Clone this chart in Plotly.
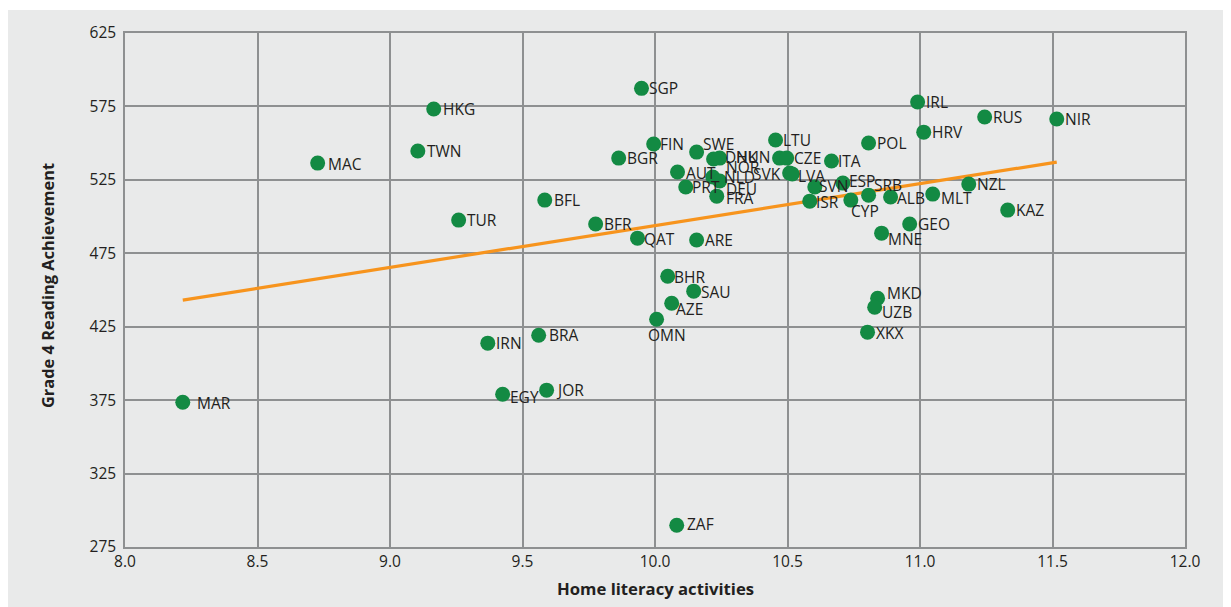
import plotly.graph_objects as go

# ---- data ----
countries = ["MAR", "MAC", "HKG", "TWN", "TUR", "IRN", "BRA", "EGY", "JOR", "BFL",
             "BFR", "BGR", "SGP", "FIN", "QAT", "SWE", "DNK", "NOR", "AUT", "PRT",
             "NLD", "DEU", "FRA", "ZAF", "BHR", "SAU", "AZE", "OMN", "ARE", "LTU",
             "HUN", "CZE", "SVK", "LVA", "ITA", "POL", "IRL", "HRV", "RUS", "NIR",
             "NZL", "KAZ", "MLT", "ALB", "SRB", "CYP", "ESP", "SVN", "ISR", "GEO",
             "MNE", "MKD", "UZB", "XKX"]
home_literacy = [8.218, 8.727, 9.165, 9.105, 9.259, 9.369, 9.561, 9.425, 9.591, 9.584,
                 9.776, 9.863, 9.949, 9.995, 9.934, 10.157, 10.244, 10.221, 10.085, 10.116,
                 10.218, 10.244, 10.233, 10.082, 10.048, 10.146, 10.063, 10.006, 10.157, 10.455,
                 10.470, 10.497, 10.508, 10.518, 10.666, 10.806, 10.991, 11.014, 11.244, 11.516,
                 11.184, 11.331, 11.048, 10.889, 10.806, 10.739, 10.709, 10.603, 10.584, 10.961,
                 10.855, 10.840, 10.829, 10.802]
reading = [373.6, 536.4, 573.2, 544.6, 497.6, 413.8, 419.2, 379.0, 381.8, 511.2,
           494.9, 539.8, 587.3, 549.4, 485.3, 543.9, 539.8, 539.2, 530.3, 520.1,
           526.9, 524.2, 513.9, 289.8, 459.4, 449.2, 441.0, 430.1, 484.0, 552.1,
           539.8, 539.8, 529.6, 529.0, 537.8, 550.1, 578.0, 557.5, 567.8, 566.4,
           522.1, 504.4, 515.3, 513.3, 514.6, 511.2, 522.8, 520.1, 510.5, 494.9,
           488.7, 444.4, 438.3, 421.3]
trend_x = [8.218, 11.516]
trend_y = [443.1, 537.1]

x_ticks = [8.0, 8.5, 9.0, 9.5, 10.0, 10.5, 11.0, 11.5, 12.0]
y_ticks = [275, 325, 375, 425, 475, 525, 575, 625]

# ---- label placement (pixel offsets: dx right, dy down, anchor) ----
default_offset = (8, 0, "left")
label_offsets = {
    "MAR": (14, 1, "left"), "MAC": (10, 1, "left"), "HKG": (9, 0, "left"),
    "TWN": (9, 0, "left"), "BRA": (10, 0, "left"), "EGY": (7, 3, "left"),
    "JOR": (9, 0, "left"), "BFL": (9, 0, "left"),
    "FIN": (6, 0, "left"), "QAT": (6, 1, "left"),
    "SWE": (6, -8, "left"), "DNK": (5, -1, "left"), "NOR": (12, 8, "left"),
    "AUT": (8, 1, "left"), "PRT": (6, 0, "left"), "NLD": (11, 0, "left"),
    "DEU": (6, 8, "left"), "FRA": (9, 2, "left"), "ZAF": (10, -1, "left"),
    "BHR": (6, 1, "left"), "SAU": (7, 1, "left"), "AZE": (4, 6, "left"),
    "OMN": (10, 16, "center"), "LTU": (7, 0, "left"),
    "HUN": (-8, -1, "right"), "CZE": (7, 0, "left"),
    "SVK": (-7, 1, "right"), "LVA": (6, 2, "left"), "ITA": (7, 0, "left"),
    "SVN": (4, -1, "left"), "ESP": (6, -2, "left"), "SRB": (5, -10, "left"),
    "ALB": (6, 1, "left"), "MLT": (8, 4, "left"), "ISR": (6, 1, "left"),
    "CYP": (14, 11, "center"), "GEO": (8, 0, "left"), "MNE": (6, 6, "left"),
    "MKD": (9, -5, "left"), "UZB": (7, 5, "left"), "XKX": (8, 1, "left"),
}
LEFT_TRIM = 2  # annotation box padding compensation

FONT = "Open Sans"
GREEN = "#138a43"
ORANGE = "#f7941d"
GRID = "#8e9091"
PANEL = "#e9eaea"
TEXT = "#231f20"

fig = go.Figure()
fig.add_trace(go.Scatter(
    x=trend_x, y=trend_y, mode="lines",
    line=dict(color=ORANGE, width=3.2), hoverinfo="skip", showlegend=False))
fig.add_trace(go.Scatter(
    x=home_literacy, y=reading, mode="markers", text=countries,
    marker=dict(color=GREEN, size=15, line=dict(width=0)),
    hovertemplate="%{text}: %{x}, %{y}<extra></extra>", showlegend=False))

annotations = []
for c, xv, yv in zip(countries, home_literacy, reading):
    dx, dy, anchor = label_offsets.get(c, default_offset)
    if anchor == "left":
        dx -= LEFT_TRIM
    annotations.append(dict(
        x=xv, y=yv, xref="x", yref="y", text=c, showarrow=False,
        xanchor=anchor, yanchor="middle", xshift=dx, yshift=-dy,
        font=dict(family=FONT, size=15.5, color=TEXT)))

annotations.append(dict(
    x=0.5, y=-0.0804, xref="paper", yref="paper", text="<b>Home literacy activities</b>",
    showarrow=False, xanchor="center", yanchor="middle",
    font=dict(family=FONT, size=16.7, color=TEXT)))
annotations.append(dict(
    x=-0.073, y=0.509, xref="paper", yref="paper", text="<b>Grade 4 Reading Achievement</b>",
    showarrow=False, xanchor="center", yanchor="middle", textangle=-90,
    font=dict(family=FONT, size=16.4, color=TEXT)))

# page body has an 8px margin, so the figure is sized to fill the rest of the window
fig.update_layout(
    width=1223, height=599,
    margin=dict(l=117, r=46, t=25, b=60, autoexpand=False),
    paper_bgcolor="white", plot_bgcolor=PANEL,
    annotations=annotations,
    shapes=[dict(type="rect", xref="paper", yref="paper", x0=-0.12, x1=1.06,
                 y0=-0.2, y1=1.0448, fillcolor=PANEL, line=dict(width=0), layer="below")],
    font=dict(family=FONT, size=15.5, color=TEXT),
)
fig.update_xaxes(
    range=[8.0, 12.0], tickvals=x_ticks, ticktext=[f"{v:.1f}" for v in x_ticks],
    showgrid=True, gridcolor=GRID, gridwidth=1.5, zeroline=False,
    showline=True, linecolor=GRID, linewidth=1.5, mirror=True,
    ticks="", ticklabelstandoff=0, tickfont=dict(family=FONT, size=15.5, color=TEXT))
fig.update_yaxes(
    range=[275, 625], tickvals=y_ticks,
    showgrid=True, gridcolor=GRID, gridwidth=1.5, zeroline=False,
    showline=True, linecolor=GRID, linewidth=1.5, mirror=True,
    ticks="", ticklabelstandoff=4, tickfont=dict(family=FONT, size=15.5, color=TEXT))

fig.write_html("out.html")
